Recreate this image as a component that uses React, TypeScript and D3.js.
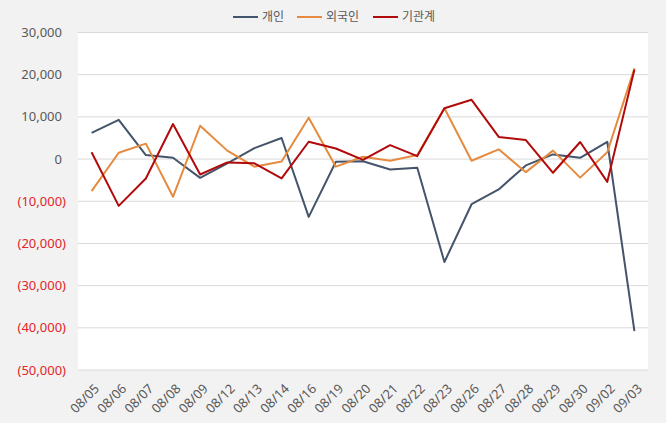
import React from "react";
import * as d3 from "d3";

const categories = ["08/05","08/06","08/07","08/08","08/09","08/12","08/13","08/14","08/16","08/19","08/20","08/21","08/22","08/23","08/26","08/27","08/28","08/29","08/30","09/02","09/03"];
const individual = [6200, 9300, 950, 300, -4450, -1000, 2600, 5000, -13700, -640, -500, -2460, -2060, -24400, -10700, -7200, -1500, 1100, 300, 4100, -40800];
const foreign = [-7600, 1500, 3650, -8950, 7900, 2000, -1800, -600, 9800, -1800, 550, -400, 950, 12050, -400, 2300, -3100, 2000, -4400, 1600, 21500];
const institution = [1600, -11100, -4600, 8300, -3650, -800, -1000, -4600, 4100, 2500, -200, 3300, 700, 12050, 14050, 5250, 4500, -3250, 4050, -5400, 21200];
const yTicks = [30000, 20000, 10000, 0, -10000, -20000, -30000, -40000, -50000];
const seriesNames = ["개인", "외국인", "기관계"];
const seriesColors = ["#44546A", "#E58A3E", "#B20A0A"];

const W = 666, H = 423;
const left = 78, right = 648, top = 32.5, bottom = 370;
const FONT = "'Noto Sans', 'Noto Sans CJK KR', sans-serif";

export default function App() {
  const x = d3.scaleBand<string>().domain(categories).range([left, right]);
  const y = d3.scaleLinear().domain([-50000, 30000]).range([bottom, top]);
  const fmt = d3.format(",");
  const series = [individual, foreign, institution];
  const line = d3.line<number>()
    .x((_, i) => (x(categories[i]) as number) + x.bandwidth() / 2)
    .y((d) => y(d));

  const legendX = [233, 297, 373];

  return (
    <svg width={W} height={H} style={{ position: "absolute", left: 0, top: 0, fontFamily: FONT }}>
      <rect x={0} y={0} width={W} height={H} fill="#F2F2F2" />
      <rect x={left} y={top} width={right - left} height={bottom - top} fill="#FFFFFF" />
      {yTicks.map((t) => (
        <g key={t}>
          <line x1={left} x2={right} y1={y(t)} y2={y(t)} stroke="#D9D9D9" strokeWidth={1} />
          <text
            x={t < 0 ? 66 : 62}
            y={y(t)}
            dy="0.35em"
            textAnchor="end"
            fontSize={13}
            fill={t < 0 ? "#E0262B" : "#595959"}
          >
            {t < 0 ? `(${fmt(-t)})` : fmt(t)}
          </text>
        </g>
      ))}
      {categories.map((c) => {
        const cx = (x(c) as number) + x.bandwidth() / 2;
        return (
          <text
            key={c}
            transform={`translate(${cx + 2},${bottom + 13}) rotate(-45)`}
            textAnchor="end"
            dy="0.71em"
            fontSize={13}
            fill="#595959"
          >
            {c}
          </text>
        );
      })}
      {series.map((s, i) => (
        <path key={i} d={line(s) as string} fill="none" stroke={seriesColors[i]} strokeWidth={2} strokeLinejoin="round" />
      ))}
      {seriesNames.map((n, i) => (
        <g key={n}>
          <line x1={legendX[i]} x2={legendX[i] + 25} y1={17} y2={17} stroke={seriesColors[i]} strokeWidth={2} />
          <text x={legendX[i] + 29} y={17} dy="0.35em" fontSize={12} fill="#595959">{n}</text>
        </g>
      ))}
    </svg>
  );
}
